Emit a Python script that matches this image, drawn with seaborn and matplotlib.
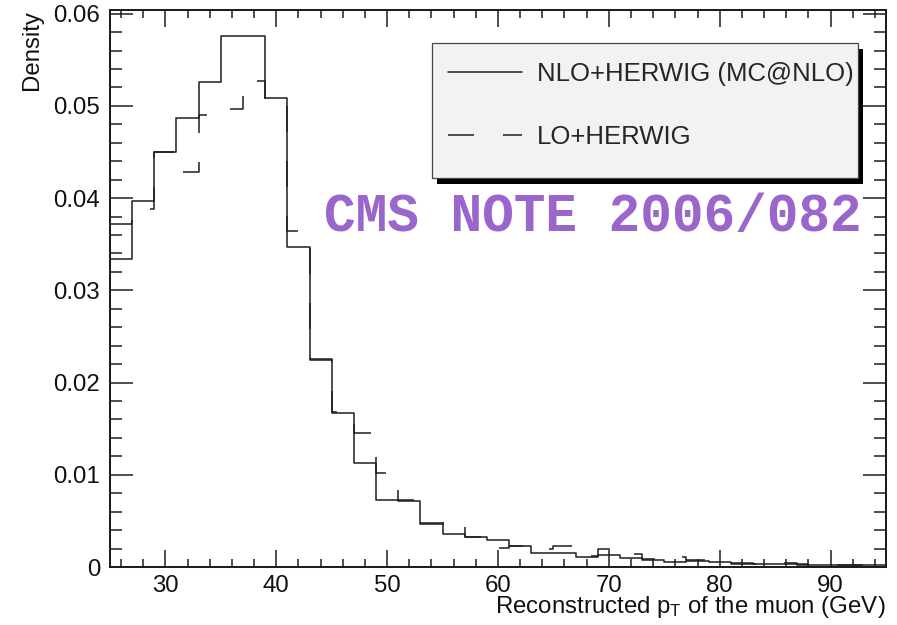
import numpy as np
import matplotlib
matplotlib.use("Agg")
import matplotlib.pyplot as plt
from matplotlib.patches import Rectangle
from matplotlib.ticker import MultipleLocator, FuncFormatter
import seaborn as sns

# Reconstructed muon pT histograms, 2 GeV bins between 25 and 95 GeV
pt_edges = list(range(25, 96, 2))
pt_centers = [lo + 1 for lo in pt_edges[:-1]]

nlo_herwig = [
    0.0334, 0.0397, 0.0450, 0.0487, 0.0526, 0.0576, 0.0576, 0.0509, 0.0347,
    0.0225, 0.0167, 0.0113, 0.0073, 0.0072, 0.0048, 0.0036, 0.0033, 0.0029,
    0.0023, 0.0015, 0.0015, 0.0011, 0.0013, 0.00094, 0.00076, 0.00058,
    0.00060, 0.00055, 0.00030, 0.00030, 0.00028, 0.00025, 0.00020, 0.00020,
    0.00018,
]
lo_herwig = [
    0.0372, 0.0388, 0.0450, 0.0428, 0.0490, 0.0497, 0.0527, 0.0505, 0.0364,
    0.0226, 0.0168, 0.0145, 0.0102, 0.0073, 0.0047, 0.0050, 0.0032, 0.0021,
    0.0023, 0.0019, 0.0023, 0.0012, 0.0020, 0.0014, 0.0009, 0.0011,
    0.0008, 0.0006, 0.0004, 0.0003, 0.0004, 0.0003, 0.0002, 0.0002,
    0.0001,
]

series_labels = ["NLO+HERWIG (MC@NLO)", "LO+HERWIG"]
x_label = r"Reconstructed p$_{\mathregular{T}}$ of the muon (GeV)"
y_label = "Density"
note_text = "CMS NOTE 2006/082"

sns.set_theme(style="ticks")
plt.rcParams["font.family"] = ["Liberation Sans", "DejaVu Sans"]
plt.rcParams["mathtext.fontset"] = "custom"
plt.rcParams["mathtext.rm"] = "Liberation Sans"
plt.rcParams["mathtext.it"] = "Liberation Sans:italic"
plt.rcParams["mathtext.bf"] = "Liberation Sans:bold"

ink = "#1e1e1e"

fig = plt.figure(figsize=(8.97, 6.25), dpi=100, facecolor="white")
ax = fig.add_axes([0.1226, 0.0928, 0.8651, 0.8912])
ax.set_facecolor("white")

sns.histplot(x=pt_centers, weights=nlo_herwig, bins=pt_edges, element="step",
             fill=False, color=ink, linewidth=1.1, label=series_labels[0], ax=ax)
sns.histplot(x=pt_centers, weights=lo_herwig, bins=pt_edges, element="step",
             fill=False, color=ink, linewidth=1.1, linestyle=(0, (17, 19)),
             label=series_labels[1], ax=ax)

ax.set_xlim(25, 95)
ax.set_ylim(0, 0.0604)

ax.xaxis.set_major_locator(MultipleLocator(10))
ax.xaxis.set_minor_locator(MultipleLocator(2))
ax.yaxis.set_major_locator(MultipleLocator(0.01))
ax.yaxis.set_minor_locator(MultipleLocator(0.002))
ax.yaxis.set_major_formatter(FuncFormatter(lambda v, _: "0" if abs(v) < 1e-9 else f"{v:g}"))

ax.tick_params(axis="both", which="both", direction="in", top=True, right=True,
               color=ink, width=1.1, labelcolor="#111111")
ax.tick_params(axis="x", which="major", length=12, pad=6, labelsize=17.3)
ax.tick_params(axis="x", which="minor", length=5.8)
ax.tick_params(axis="y", which="major", length=16.6, pad=7, labelsize=17.3)
ax.tick_params(axis="y", which="minor", length=8.6)

for side in ax.spines.values():
    side.set_linewidth(1.45)
    side.set_color(ink)
    side.set_visible(True)

ax.set_xlabel(x_label, fontsize=17.3, loc="right", color="#111111")
ax.xaxis.set_label_coords(1.0, -0.049)
ax.set_ylabel(y_label, fontsize=17.3, loc="top", color="#111111")
ax.yaxis.set_label_coords(-0.0865, 1.0)

# Legend box with a hard drop shadow
box_x0, box_y0, box_w, box_h = 0.415, 0.6977, 0.5485, 0.2433
shadow = Rectangle((box_x0 + 0.0064, box_y0 - 0.0102), box_w, box_h,
                   transform=ax.transAxes, facecolor="black", edgecolor="none", zorder=5)
frame = Rectangle((box_x0, box_y0), box_w, box_h, transform=ax.transAxes,
                  facecolor="#f2f2f2", edgecolor="#444444", linewidth=0.9, zorder=5.1)
ax.add_patch(shadow)
ax.add_patch(frame)

legend = ax.legend(loc="upper left", bbox_to_anchor=(0.4356, 0.9066), frameon=False,
                   borderpad=0, borderaxespad=0, handlelength=2.88, handletextpad=0.58,
                   labelspacing=1.52, fontsize=18.5)
legend.set_zorder(6)
for t in legend.get_texts():
    t.set_clip_path(frame)

ax.text(44.3, 0.0364, note_text, fontfamily="Liberation Mono", fontweight="bold",
        fontsize=38, color="#9b66cc", ha="left", va="baseline", zorder=10)

fig.savefig("out.png", dpi=100, facecolor="white")
